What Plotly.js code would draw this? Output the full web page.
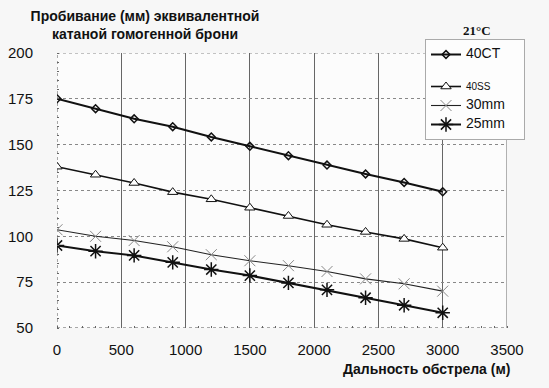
<!DOCTYPE html>
<html>
<head>
<meta charset="utf-8">
<script src="https://cdn.plot.ly/plotly-3.0.1.min.js"></script>
<style>html,body{margin:0;padding:0;background:#f7f7f7;}#chart{width:549px;height:388px;}</style>
</head>
<body>
<div id="chart"></div>
<script>
// Range of fire (m)
var distances = [0, 300, 600, 900, 1200, 1500, 1800, 2100, 2400, 2700, 3000];
// Penetration (mm) of equivalent rolled homogeneous armour
var pen40CT = [175, 169.6, 164.1, 159.8, 154.2, 149.1, 144, 138.9, 134, 129.4, 124.3];
var pen40SS = [138, 133.6, 129.1, 124.1, 120.2, 115.6, 111.1, 106.3, 102.4, 98.6, 93.8];
var pen30mm = [103.6, 100, 97.7, 94.3, 90, 86.7, 84, 80.8, 76.8, 74.1, 70.1];
var pen25mm = [95, 91.9, 89.6, 85.8, 81.9, 78.6, 74.6, 70.8, 66.5, 62.4, 58.3];
var seriesNames = ['40CT', '40SS', '30mm', '25mm'];
var xTicks = [0, 500, 1000, 1500, 2000, 2500, 3000, 3500];
var yTicks = [50, 75, 100, 125, 150, 175, 200];

var font = 'Arial, "Liberation Sans", sans-serif';
var pad = '\u00a0\u00a0\u00a0\u00a0\u00a0';
function big(s) { return '<span style="font-size:14px">' + s + '</span>' + pad; }
function small(s) { return '<span style="font-size:10px">' + s + '</span>' + pad; }

var traces = [
  {x: distances, y: pen40CT, name: big(seriesNames[0]), legendgroup: 'a', mode: 'lines+markers',
   line: {color: '#111', width: 2},
   marker: {symbol: 'diamond-open', size: 6, color: '#111', line: {color: '#111', width: 1.5}}},
  {x: distances, y: pen40SS, name: small(seriesNames[1]), legendgroup: 'b', mode: 'lines+markers',
   line: {color: '#111', width: 1.6},
   marker: {symbol: 'triangle-up', size: 9, color: '#fff', line: {color: '#111', width: 1}}},
  {x: distances, y: pen30mm, name: big(seriesNames[2]), legendgroup: 'b', mode: 'lines+markers',
   line: {color: '#222', width: 1.1},
   marker: {symbol: 'x-thin-open', size: 11, color: '#888', line: {color: '#888', width: 1}}},
  {x: distances, y: pen25mm, name: big(seriesNames[3]), legendgroup: 'b', mode: 'lines+markers',
   line: {color: '#111', width: 2},
   marker: {symbol: 'asterisk-open', size: 12, color: '#111', line: {color: '#111', width: 1.5}}}
];

var x0 = xTicks[0], x1 = xTicks[xTicks.length - 1];
var y0 = yTicks[0], y1 = yTicks[yTicks.length - 1];

var layout = {
  width: 549, height: 388,
  margin: {l: 57, r: 42, t: 53, b: 60, pad: 0},
  paper_bgcolor: '#f7f7f7',
  plot_bgcolor: '#fcfcfc',
  font: {family: font, color: '#111', size: 15},
  showlegend: true,
  title: {
    text: 'Пробивание (мм) эквивалентной<br>катаной гомогенной брони',
    font: {family: font, size: 14, color: '#111', weight: 'bold'},
    x: 145 / 549, xanchor: 'center', xref: 'container',
    y: 1 - 21 / 388, yanchor: 'middle', yref: 'container'
  },
  xaxis: {
    range: [x0, x1], tickvals: xTicks, ticktext: xTicks.map(String),
    showgrid: true, gridcolor: '#666', gridwidth: 1, griddash: 'solid',
    zeroline: false, showline: false, ticks: '', ticklabelstandoff: 11,
    tickfont: {family: font, size: 15, color: '#111'},
    minor: {dtick: 100, ticks: 'inside', ticklen: 2, tickcolor: '#666', showgrid: false}
  },
  yaxis: {
    range: [y0, y1], tickvals: yTicks, ticktext: yTicks.map(String),
    showgrid: true, gridcolor: '#888', gridwidth: 1, griddash: 'dot',
    zeroline: false, showline: false, ticks: '', ticklabelstandoff: 23,
    tickfont: {family: font, size: 15, color: '#111'},
    minor: {dtick: 5, ticks: 'inside', ticklen: 2, tickcolor: '#666', showgrid: false}
  },
  shapes: [
    {type: 'line', xref: 'x', yref: 'y', x0: x0, x1: x0, y0: y0, y1: y1, layer: 'below', line: {color: '#555', width: 1, dash: 'dot'}},
    {type: 'line', xref: 'x', yref: 'y', x0: x1, x1: x1, y0: y0, y1: y1, layer: 'below', line: {color: '#666', width: 1}},
    {type: 'line', xref: 'x', yref: 'y', x0: x0, x1: x1, y0: y1, y1: y1, layer: 'below', line: {color: '#888', width: 1, dash: 'dot'}},
    {type: 'line', xref: 'x', yref: 'y', x0: x0, x1: x1, y0: y0, y1: y0, layer: 'below', line: {color: '#555', width: 1, dash: 'dot'}}
  ],
  legend: {
    x: (425 - 57) / 450, xanchor: 'left',
    y: (328 - 39) / 275, yanchor: 'top',
    bgcolor: '#fdfdfd', bordercolor: '#aaa', borderwidth: 1,
    font: {family: font, size: 10, color: '#111'},
    traceorder: 'grouped', tracegroupgap: 13,
    itemwidth: 30
  },
  annotations: [
    {text: '21°C', xref: 'paper', yref: 'paper',
     x: (477 - 57) / 450, y: (328 - 31) / 275, xanchor: 'center', yanchor: 'middle',
     showarrow: false, font: {family: '"Liberation Serif", "Times New Roman", serif', size: 13, color: '#111', weight: 'bold'}},
    {text: 'Дальность обстрела (м)', xref: 'paper', yref: 'paper',
     x: (512 - 57) / 450, y: (328 - 369) / 275, xanchor: 'right', yanchor: 'middle',
     showarrow: false, font: {family: font, size: 14, color: '#111', weight: 'bold'}}
  ]
};

Plotly.newPlot('chart', traces, layout, {displayModeBar: false, staticPlot: true});
</script>
</body>
</html>
